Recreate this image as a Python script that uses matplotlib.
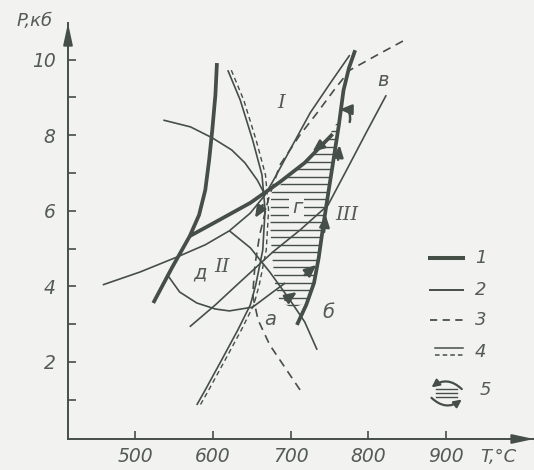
import numpy as np
import matplotlib
matplotlib.use("Agg")
import matplotlib.pyplot as plt
import matplotlib.transforms as mtransforms
from matplotlib.patches import Polygon, FancyArrowPatch
from matplotlib.lines import Line2D

# ---------------- data (T in °C, P in kbar) ----------------
x_ticks = [500, 600, 700, 800, 900]
y_major = [2, 4, 6, 8, 10]
y_minor = [1, 3, 5, 7, 9]

# type 1 : thick lines
curveA_T = [523, 547, 570, 582, 590, 595, 599, 603, 605]
curveA_P = [3.56, 4.49, 5.33, 5.89, 6.55, 7.35, 8.14, 9.06, 9.91]
curveB_T = [570, 603, 648, 686, 718, 754]
curveB_P = [5.33, 5.70, 6.21, 6.76, 7.27, 8.03]
curveF_T = [708, 720, 730, 736, 742, 748, 754, 762, 768, 775, 783]
curveF_P = [2.98, 3.51, 4.09, 4.75, 5.62, 6.42, 7.21, 8.27, 9.19, 9.78, 10.25]

# type 2 : thin lines
curveC_T = [458, 506, 554, 590, 621, 648, 667, 680, 699, 725, 751, 776]
curveC_P = [4.04, 4.38, 4.78, 5.10, 5.47, 5.94, 6.42, 6.89, 7.61, 8.59, 9.38, 10.12]
curveG_T = [536, 571, 599, 624, 641, 657, 667]
curveG_P = [8.40, 8.22, 7.93, 7.61, 7.27, 6.81, 6.42]
curveJ_T = [621, 648, 673, 699, 718, 734]
curveJ_P = [5.47, 5.02, 4.38, 3.64, 3.06, 2.32]
curveH_T = [542, 557, 579, 603, 621, 651, 677, 693]
curveH_P = [4.28, 3.85, 3.56, 3.40, 3.35, 3.45, 3.85, 4.09]
curveV_T = [570, 603, 635, 677, 712, 748, 772, 797, 823]
curveV_P = [2.93, 3.51, 4.12, 4.91, 5.49, 6.15, 7.08, 8.06, 9.06]

# type 3 : dashed line
curveE_T = [712, 693, 673, 658, 651, 654, 660, 671, 686, 712, 734, 756, 776, 811, 847]
curveE_P = [1.26, 1.84, 2.45, 3.11, 3.77, 4.57, 5.36, 6.29, 7.21, 8.01, 8.59, 9.20, 9.72, 10.12, 10.52]

# type 4 : double (solid + dashed) line
curveD_T = [619, 635, 651, 663, 667, 664, 655, 648, 632, 611, 590, 579]
curveD_P = [9.72, 8.93, 7.87, 6.95, 6.02, 4.96, 4.04, 3.51, 2.85, 2.05, 1.26, 0.86]

# hatched field
hatch_T = [675, 712, 744, 763, 761, 757, 754, 748, 742, 736, 730, 720, 702, 686, 680, 676, 673]
hatch_P = [6.47, 7.16, 7.82, 8.45, 8.01, 7.61, 7.21, 6.42, 5.62, 4.75, 4.09, 3.56, 3.43, 3.59, 4.04, 4.83, 5.62]

# type 5 : P-T path arrows
arrow_start_T = [693, 718, 743, 761, 744, 664]
arrow_start_P = [3.64, 4.30, 5.44, 7.35, 7.82, 6.15]
arrow_end_T = [708, 733, 745, 763, 728, 654]
arrow_end_P = [3.85, 4.57, 5.89, 7.74, 7.56, 5.81]
hook_start = (776, 8.35)
hook_end = (763, 8.68)

# labels
region_labels = ["I", "II", "III"]
region_T = [688, 611, 773]
region_P = [8.85, 4.51, 5.89]
point_labels = ["а", "б", "в", "г", "д"]
point_T = [673, 748, 819, 708, 583]
point_P = [3.11, 3.32, 9.46, 6.10, 4.35]
legend_labels = ["1", "2", "3", "4", "5"]

# ---------------- style ----------------
LC = '#464e48'
TC = '#545a56'
BG = '#f2f3f1'

fig = plt.figure(figsize=(5.34, 4.70), dpi=100, facecolor=BG)
ax = fig.add_axes([68/534, 31/470, 466/534, 416/470])
ax.set_facecolor(BG)
ax.set_xlim(413.2, 1013.3)
ax.set_ylim(-0.04, 10.97)
for s in ['top', 'right']:
    ax.spines[s].set_visible(False)
for s in ['left', 'bottom']:
    ax.spines[s].set_color(LC)
    ax.spines[s].set_linewidth(1.4)

ax.set_xticks(x_ticks)
ax.set_xticklabels([str(v) for v in x_ticks])
ax.set_yticks(y_major)
ax.set_yticklabels([str(v) for v in y_major])
ax.set_yticks(y_minor, minor=True)
ax.tick_params(axis='both', which='both', direction='in', length=5.8, width=1.2, color=LC)
ax.tick_params(axis='y', which='major', pad=9, labelsize=13.5, labelcolor=TC)
ax.tick_params(axis='x', which='major', pad=6, labelsize=13.5, labelcolor=TC)
for lab in ax.get_xticklabels() + ax.get_yticklabels():
    lab.set_fontstyle('italic')

# axis arrows
arw = dict(arrowstyle='-|>,head_length=1.3,head_width=0.28', color=LC, lw=1.4,
           shrinkA=0, shrinkB=0)
ax.annotate('', xy=(0, 1.0), xytext=(0, 0.94), xycoords='axes fraction',
            arrowprops=arw, annotation_clip=False)
ax.annotate('', xy=(1.0, 0), xytext=(0.95, 0), xycoords='axes fraction',
            arrowprops=arw, annotation_clip=False)

fig.text(35/534, 1 - 21/470, "P,кб", fontsize=13, fontstyle='italic', color=TC,
         ha='center', va='center')
fig.text(498/534, 1 - 457/470, "T,°C", fontsize=13, fontstyle='italic', color=TC,
         ha='center', va='center')

# hatched field
poly = Polygon(list(zip(hatch_T, hatch_P)), closed=True, facecolor='none', edgecolor='none')
ax.add_patch(poly)
levels = np.arange(3.3, 8.6, 0.2)
hl = ax.hlines(levels, min(hatch_T), max(hatch_T), color=LC, lw=1.0)
hl.set_clip_path(poly)

thick = dict(color=LC, lw=2.7, solid_capstyle='butt', solid_joinstyle='round')
thin = dict(color=LC, lw=1.2, solid_capstyle='butt', solid_joinstyle='round')

ax.plot(curveA_T, curveA_P, **thick)
ax.plot(curveB_T, curveB_P, **thick)
ax.plot(curveF_T, curveF_P, **thick)
for T, P in [(curveC_T, curveC_P), (curveG_T, curveG_P), (curveJ_T, curveJ_P),
             (curveH_T, curveH_P), (curveV_T, curveV_P)]:
    ax.plot(T, P, **thin)
ax.plot(curveE_T, curveE_P, color=LC, lw=1.2, linestyle=(0, (5, 3.5)))
ax.plot(curveD_T, curveD_P, **thin)
off = mtransforms.offset_copy(ax.transData, fig=fig, x=3.5, y=0, units='dots')
ax.plot(curveD_T, curveD_P, color=LC, lw=1.0, linestyle=(0, (3.5, 2.5)), transform=off)

# path arrows
pa = dict(arrowstyle='-|>,head_length=0.7,head_width=0.3', color=LC, lw=1.8,
          shrinkA=0, shrinkB=0)
for t0, p0, t1, p1 in zip(arrow_start_T, arrow_start_P, arrow_end_T, arrow_end_P):
    ax.annotate('', xy=(t1, p1), xytext=(t0, p0), arrowprops=pa)
ax.annotate('', xy=hook_end, xytext=hook_start,
            arrowprops=dict(pa, connectionstyle='arc3,rad=0.6'))

# labels
for s, t, p in zip(region_labels, region_T, region_P):
    ax.text(t, p, s, fontsize=14, fontstyle='italic', family='DejaVu Serif', color=TC,
            ha='center', va='center')
for s, t, p in zip(point_labels, point_T, point_P):
    kw = {}
    if s == "г":
        kw['bbox'] = dict(boxstyle='square,pad=0.12', fc=BG, ec='none')
    ax.text(t, p, s, fontsize=14, fontstyle='italic', color=TC, ha='center', va='center', **kw)

# legend (drawn manually, axes-fraction coordinates)
tr = ax.transAxes
lx0, lx1, tx = 0.777, 0.848, 0.885
ax.add_line(Line2D([lx0, lx1], [0.435, 0.435], transform=tr, color=LC, lw=2.9))
ax.add_line(Line2D([lx0, lx1], [0.358, 0.358], transform=tr, color=LC, lw=1.4))
ax.add_line(Line2D([lx0, lx1], [0.286, 0.286], transform=tr, color=LC, lw=1.3,
                   linestyle=(0, (4, 3))))
ax.add_line(Line2D([lx0 + 0.01, lx1], [0.218, 0.218], transform=tr, color=LC, lw=1.1))
ax.add_line(Line2D([lx0 + 0.01, lx1], [0.203, 0.203], transform=tr, color=LC, lw=1.1,
                   linestyle=(0, (3, 2))))
for yy in [0.119, 0.1106, 0.102]:
    ax.add_line(Line2D([0.790, 0.835], [yy, yy], transform=tr, color=LC, lw=1.0))
ax.add_patch(FancyArrowPatch((0.845, 0.120), (0.780, 0.124), transform=tr,
                             connectionstyle='arc3,rad=0.42', shrinkA=0, shrinkB=0,
                             arrowstyle='-|>,head_length=4.5,head_width=2.2',
                             color=LC, lw=1.6))
ax.add_patch(FancyArrowPatch((0.780, 0.099), (0.845, 0.095), transform=tr,
                             connectionstyle='arc3,rad=0.42', shrinkA=0, shrinkB=0,
                             arrowstyle='-|>,head_length=4.5,head_width=2.2',
                             color=LC, lw=1.6))
for lab, yy in zip(legend_labels, [0.435, 0.358, 0.286, 0.210, 0.118]):
    ax.text(tx if lab != "5" else tx + 0.01, yy, lab, transform=tr, fontsize=13,
            fontstyle='italic', color=TC, ha='center', va='center')

fig.savefig("out.png", dpi=100, facecolor=BG)
